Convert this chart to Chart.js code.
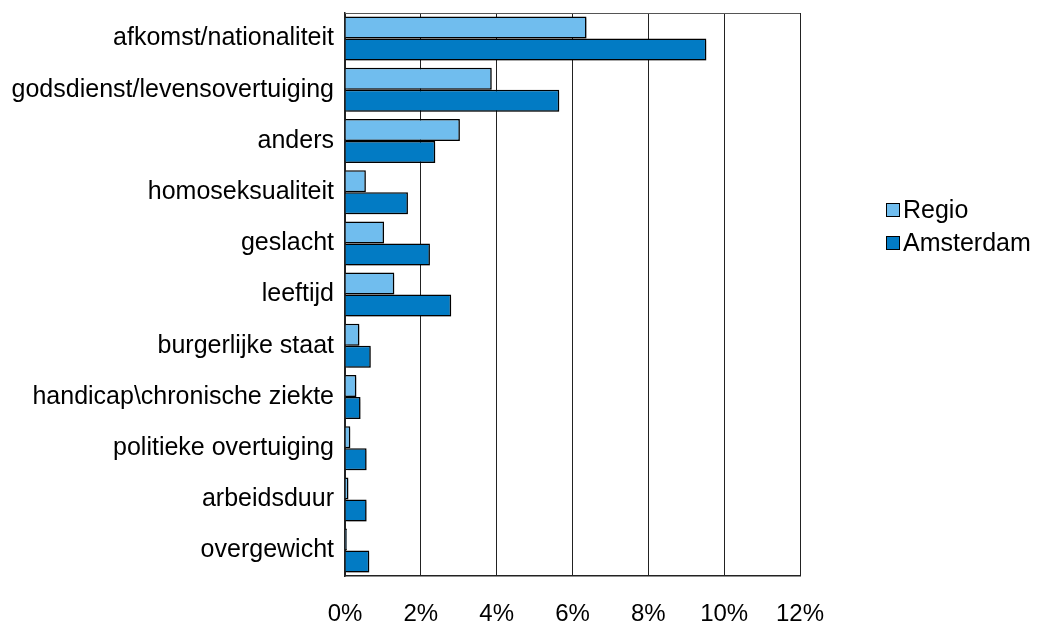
<!DOCTYPE html>
<html>
<head>
<meta charset="utf-8">
<script src="https://cdn.jsdelivr.net/npm/chart.js@4/dist/chart.umd.min.js"></script>
<style>
html,body{margin:0;padding:0;background:#fff;overflow:hidden;}
#wrap{position:relative;width:1039px;height:626px;overflow:hidden;}
#c{position:absolute;left:0;top:-13px;}
#legend{position:absolute;left:886px;top:193px;font-family:"Liberation Sans",Arial,sans-serif;font-size:25px;color:#000;}
#legend div{height:33px;display:flex;align-items:center;white-space:nowrap;}
#legend span.box{display:inline-block;width:14px;height:14px;border:1.5px solid #000;margin-right:3px;box-sizing:border-box;}
</style>
</head>
<body>
<div id="wrap">
<canvas id="c" width="1039" height="678"></canvas>
<div id="legend"></div>
</div>
<script>
const categories = ["afkomst/nationaliteit","godsdienst/levensovertuiging","anders","homoseksualiteit","geslacht","leeftijd","burgerlijke staat","handicap\\chronische ziekte","politieke overtuiging","arbeidsduur","overgewicht"];
const regio = [6.37, 3.87, 3.03, 0.55, 1.03, 1.30, 0.38, 0.30, 0.14, 0.09, 0.05];
const amsterdam = [9.53, 5.65, 2.38, 1.66, 2.24, 2.80, 0.68, 0.41, 0.57, 0.57, 0.64];
const seriesNames = ["Regio","Amsterdam"];
const seriesColors = ["#70BDEE","#027BC4"];

const FONT = '"Liberation Sans", Arial, sans-serif';

const frame = {
  id:'frame',
  beforeDatasetsDraw(chart){
    const ctx=chart.ctx; ctx.save();
    ctx.shadowColor='rgba(0,0,0,0.3)'; ctx.shadowOffsetX=2; ctx.shadowOffsetY=2; ctx.shadowBlur=2;
  },
  afterDatasetsDraw(chart){ chart.ctx.restore(); },
  afterDraw(chart){
    const a=chart.chartArea, ctx=chart.ctx;
    ctx.save(); ctx.strokeStyle='#555'; ctx.lineWidth=1;
    ctx.beginPath(); ctx.moveTo(a.left, a.top+0.5); ctx.lineTo(a.right, a.top+0.5); ctx.stroke();
    ctx.restore();
  }
};

new Chart(document.getElementById('c'), {
  type:'bar',
  data:{
    labels:categories,
    datasets:[
      {label:seriesNames[0], data:regio, backgroundColor:seriesColors[0], borderColor:'#000', borderWidth:1.5},
      {label:seriesNames[1], data:amsterdam, backgroundColor:seriesColors[1], borderColor:'#000', borderWidth:1.5}
    ]
  },
  options:{
    indexAxis:'y',
    responsive:false,
    animation:false,
    devicePixelRatio:1,
    categoryPercentage:0.86,
    barPercentage:1.0,
    layout:{padding:{top:4,right:239,bottom:12,left:0}},
    plugins:{legend:{display:false},tooltip:{enabled:false}},
    scales:{
      x:{
        min:0,max:12,
        ticks:{stepSize:2,callback:v=>v+'%',color:'#000',font:{family:FONT,size:24},padding:24,maxRotation:0},
        grid:{color:'#222',lineWidth:1,drawTicks:false},
        border:{display:true,color:'#222',width:1.5}
      },
      y:{
        ticks:{color:'#000',font:{family:FONT,size:25},padding:11},
        grid:{display:false,drawTicks:false},
        border:{display:true,color:'#222',width:1.5},
        afterFit(s){ s.width=345; }
      }
    }
  },
  plugins:[frame]
});

const lg=document.getElementById('legend');
seriesNames.forEach((n,i)=>{
  const d=document.createElement('div');
  d.innerHTML='<span class="box" style="background:'+seriesColors[i]+'"></span>'+n;
  lg.appendChild(d);
});
</script>
</body>
</html>
